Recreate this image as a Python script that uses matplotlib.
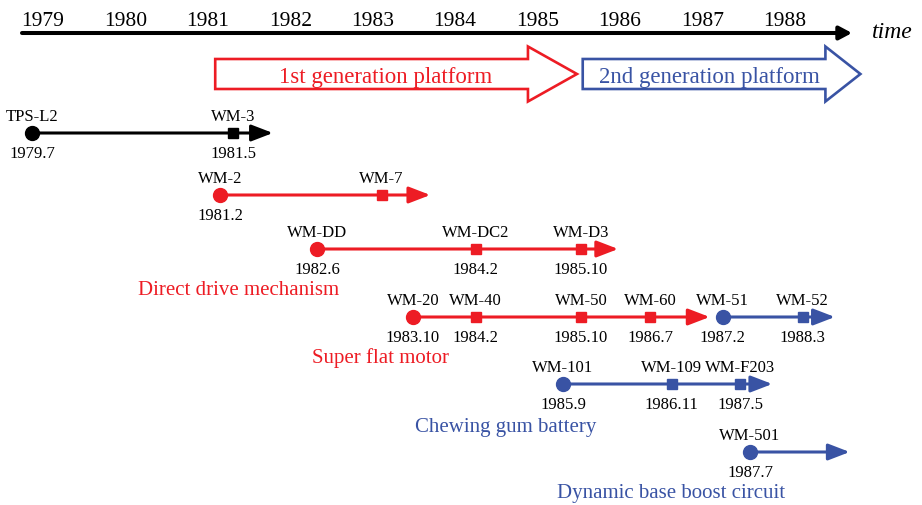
import matplotlib.pyplot as plt
from matplotlib.patches import FancyArrow

plt.rcParams['font.family'] = ['Liberation Serif', 'DejaVu Serif']

# axis years
years = list(range(1979, 1989))

# platform generations (positions read against the year axis)
gen_names = ["1st generation platform", "2nd generation platform"]
gen_start = [1981.09, 1985.55]
gen_end = [1985.48, 1988.92]
gen_label_x = [1983.16, 1987.09]

# product lines: row, generation, model names, dates, positions on axis, arrow end
line_rows = [0, 1, 2, 3, 3, 4, 5]
line_gen = ["pre", "1st", "1st", "1st", "2nd", "2nd", "2nd"]
line_models = [
    ["TPS-L2", "WM-3"],
    ["WM-2", "WM-7"],
    ["WM-DD", "WM-DC2", "WM-D3"],
    ["WM-20", "WM-40", "WM-50", "WM-60"],
    ["WM-51", "WM-52"],
    ["WM-101", "WM-109", "WM-F203"],
    ["WM-501"],
]
line_dates = [
    ["1979.7", "1981.5"],
    ["1981.2", ""],
    ["1982.6", "1984.2", "1985.10"],
    ["1983.10", "1984.2", "1985.10", "1986.7"],
    ["1987.2", "1988.3"],
    ["1985.9", "1986.11", "1987.5"],
    ["1987.7"],
]
line_pos = [
    [1978.87, 1981.31],
    [1981.15, 1983.11],
    [1982.33, 1984.25, 1985.53],
    [1983.49, 1984.25, 1985.53, 1986.37],
    [1987.25, 1988.22],
    [1985.31, 1986.63, 1987.46],
    [1987.58],
]
line_end = [1981.79, 1983.70, 1985.98, 1987.09, 1988.61, 1987.85, 1988.79]

# technology labels
feature_names = ["Direct drive mechanism", "Super flat motor",
                 "Chewing gum battery", "Dynamic base boost circuit"]
feature_gen = ["1st", "1st", "2nd", "2nd"]
feature_x = [1981.37, 1983.09, 1984.62, 1986.62]

# layout (pixel rows, top-down)
row_y = [133, 195, 249, 317, 384, 452]
feature_y = [295, 363, 432, 498]
colors = {"pre": "black", "1st": "#ED1C24", "2nd": "#3953A4"}
X0, PX = 43, 82.4   # pixel of 1979 label and pixels per year

fig = plt.figure(figsize=(9.22, 5.05), dpi=100)
ax = fig.add_axes([0, 0, 1, 1])
ax.set_xlim(1979 - X0 / PX, 1979 + (922 - X0) / PX)
ax.set_ylim(505, 0)
ax.axis("off")

def yr(px):
    return 1979 + (px - X0) / PX

# time axis
ax.annotate("", xy=(yr(852), 33), xytext=(yr(22), 33),
            arrowprops=dict(arrowstyle="-|>,head_length=7.5,head_width=4",
                            lw=2.9, color="black", shrinkA=0, shrinkB=0,
                            mutation_scale=1))
for y in years:
    ax.text(y, 26, str(y), ha="center", va="baseline", fontsize=15.5)
ax.text(yr(872), 38, "time", ha="left", va="baseline", fontsize=17,
        style="italic")

# generation arrows
head_len = [49 / PX, 35 / PX]
for i, name in enumerate(gen_names):
    c = colors["1st"] if i == 0 else colors["2nd"]
    arr = FancyArrow(gen_start[i], 74, gen_end[i] - gen_start[i], 0,
                     width=30, head_width=55, head_length=head_len[i],
                     length_includes_head=True, fill=False, ec=c, lw=1.9,
                     joinstyle="miter")
    ax.add_patch(arr)
    ax.text(gen_label_x[i], 83, name, ha="center", va="baseline",
            fontsize=16.5, color=c)

# product lines
for i in range(len(line_rows)):
    y = row_y[line_rows[i]]
    c = colors[line_gen[i]]
    xs = line_pos[i]
    ax.annotate("", xy=(line_end[i], y), xytext=(xs[0], y),
                arrowprops=dict(arrowstyle="-|>,head_length=13,head_width=5",
                                lw=2.2, color=c, shrinkA=0, shrinkB=0,
                                mutation_scale=1), zorder=2)
    ax.plot(xs[0], y, "o", ms=10, color=c, zorder=3)
    if len(xs) > 1:
        ax.plot(xs[1:], [y] * (len(xs) - 1), "s", ms=7, color=c, zorder=3)
    for x, m, d in zip(xs, line_models[i], line_dates[i]):
        ax.text(x, y - 12, m, ha="center", va="baseline", fontsize=12)
        if d:
            ax.text(x, y + 25, d, ha="center", va="baseline", fontsize=12)

for name, g, x, y in zip(feature_names, feature_gen, feature_x, feature_y):
    ax.text(x, y, name, ha="center", va="baseline", fontsize=15,
            color=colors[g])

fig.savefig("out.png", dpi=100)
